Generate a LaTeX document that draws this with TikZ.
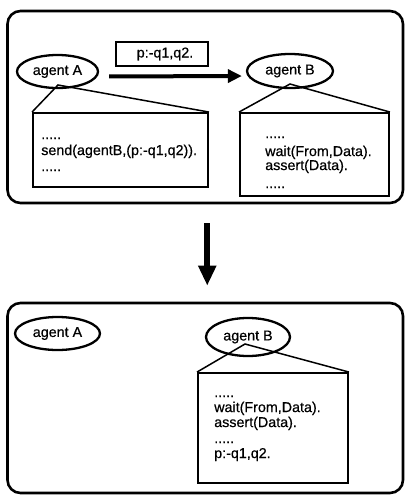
\documentclass[tikz,border=0pt]{standalone}
\usepackage{fontspec}
\setmainfont{Liberation Sans}
\newfontfamily\printfont{Liberation Sans}[FakeBold=0.5]
\usetikzlibrary{shapes.geometric,arrows.meta}
\begin{document}
\begin{tikzpicture}[x=1pt,y=-1pt,
  txt/.style={font=\printfont\fontsize{14.3}{16}\selectfont, inner sep=0pt},
  code/.style={txt, anchor=base west},
  frame/.style={draw, line width=2.6pt, rounded corners=13pt, inner sep=0pt},
  agent/.style={draw, ellipse, line width=2.3pt, inner sep=0pt, txt},
  codebox/.style={draw, line width=1.9pt, inner sep=0pt},
  msgbox/.style={draw, line width=2pt, inner sep=0pt, txt},
  pointer/.style={line width=1.5pt, line join=miter},
  msg/.style={line width=4pt, -{Triangle[length=14pt,width=13pt]}},
  flow/.style={line width=6pt, -{Triangle[length=20pt,width=17pt]}}
]
\useasboundingbox (0,0) rectangle (406,496);

% ---- before: agent A sends a clause to agent B ----
\node[frame, minimum width=395.5pt, minimum height=192pt] (top) at (205.25,107) {};
\node[agent, minimum width=81pt, minimum height=33pt] (tA) at (57.5,71.5) {agent A};
\node[agent, minimum width=86pt, minimum height=34pt] (tB) at (290,71) {agent B};
\node[msgbox, minimum width=92pt, minimum height=24pt] (m) at (162,54) {\hspace{6pt}p:-q1,q2.};
\draw[msg, shorten <=10pt, shorten >=4pt] ([yshift=-5pt]tA.east) -- ([yshift=-5pt]tB.west);

\node[codebox, minimum width=175pt, minimum height=74pt] (bA) at (120.5,150) {};
\coordinate (apA) at (58,85);
\draw[pointer] (bA.north west) -- (apA) -- (bA.north east);
\node[code] at ([shift={(9,27)}]bA.north west) {.....};
\node[code] at ([shift={(9,43)}]bA.north west) {send(agentB,(p:-q1,q2)).};
\node[code] at ([shift={(9,59)}]bA.north west) {.....};

\node[codebox, minimum width=149pt, minimum height=83pt] (bB) at (314.5,154.5) {};
\coordinate (apB) at (290,84);
\draw[pointer] (bB.north west) -- (apB) -- (bB.north east);
\node[code] at ([shift={(26,26)}]bB.north west) {.....};
\node[code] at ([shift={(26,44)}]bB.north west) {wait(From,Data).};
\node[code] at ([shift={(26,58)}]bB.north west) {assert(Data).};
\node[code] at ([shift={(26,76)}]bB.north west) {.....};

% ---- transition ----
\node[frame, minimum width=395.5pt, minimum height=190pt] (bot) at (205.25,398) {};
\draw[flow, shorten <=19pt, shorten >=16pt] ([xshift=2pt]top.south) -- ([xshift=2pt]bot.north);

% ---- after: the clause is stored in agent B ----
\node[agent, minimum width=85pt, minimum height=33pt] (lA) at (57.5,333.5) {agent A};
\node[agent, minimum width=84pt, minimum height=38pt] (lB) at (248,337) {agent B};

\node[codebox, minimum width=150pt, minimum height=110pt] (bC) at (273,428) {};
\coordinate (apC) at (245,344);
\draw[pointer] (bC.north west) -- (apC) -- (bC.north east);
\node[code] at ([shift={(17,25)}]bC.north west) {.....};
\node[code] at ([shift={(17,40)}]bC.north west) {wait(From,Data).};
\node[code] at ([shift={(17,55)}]bC.north west) {assert(Data).};
\node[code] at ([shift={(17,71)}]bC.north west) {.....};
\node[code] at ([shift={(17,86)}]bC.north west) {p:-q1,q2.};
\end{tikzpicture}
\end{document}
